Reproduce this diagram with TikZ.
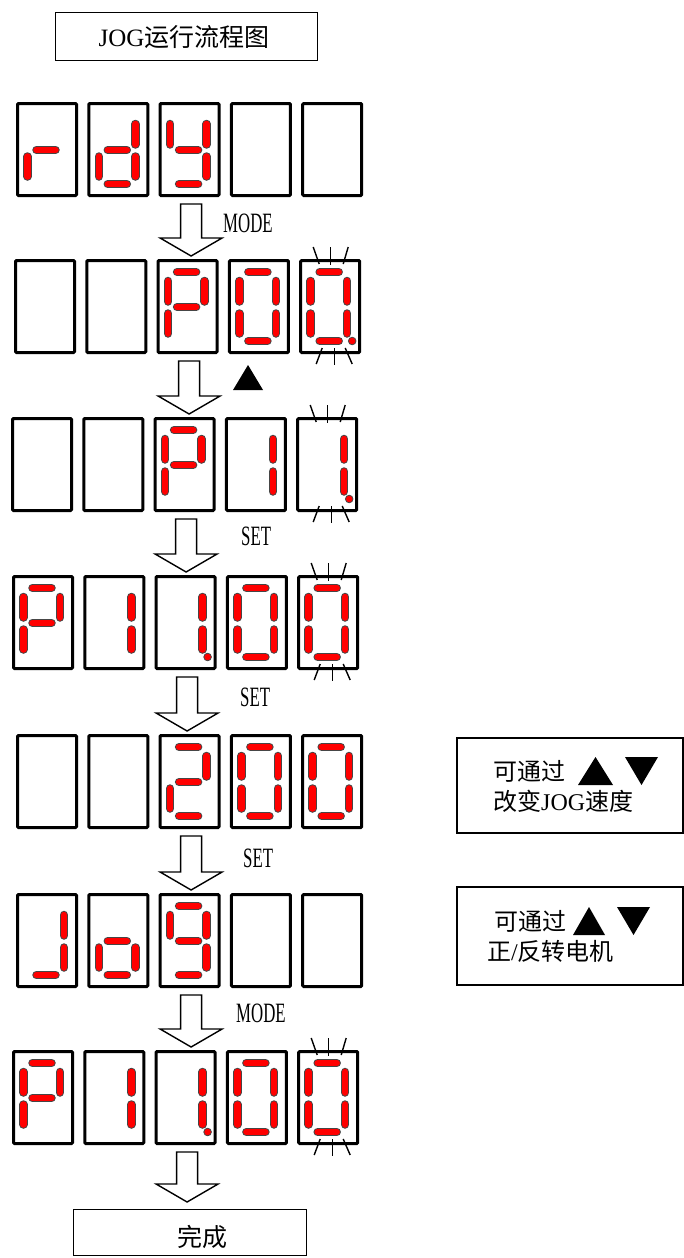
\documentclass[tikz,border=0pt]{standalone}
\usepackage{fontspec}
\setmainfont{Liberation Serif}
\newfontfamily\cjk{Noto Sans CJK SC}
\usepackage{graphicx}
\usetikzlibrary{calc}
\definecolor{segred}{RGB}{255,0,0}
\definecolor{segedge}{RGB}{70,70,70}
\tikzset{
  dbox/.style={draw, line width=3pt, rounded corners=1pt, minimum width=59pt, minimum height=92pt, inner sep=0pt, outer sep=0pt, anchor=north west},
  segout/.style={line width=8.5pt, line cap=round, draw=segedge},
  segin/.style={line width=6.5pt, line cap=round, draw=segred},
  blink/.style={line width=1.4pt, draw=black},
  barrow/.style={draw=black, fill=white, line width=1.4pt, line join=miter},
  tbox/.style={draw=black, line width=1.3pt, inner sep=0pt, outer sep=0pt, anchor=north west},
  keylbl/.style={inner sep=0pt, anchor=west, font=\fontsize{28pt}{28pt}\selectfont},
  cjktxt/.style={inner sep=0pt, anchor=west, font=\fontsize{24pt}{26pt}\selectfont},
}
% segment helpers (coordinates relative to the outer top-left of a display box)
\newcommand\hseg[1]{\draw[segout] (20.5,#1) -- (39.5,#1); \draw[segin] (20.5,#1) -- (39.5,#1);}
\newcommand\vseg[3]{\draw[segout] (#1,#2) -- (#1,#3); \draw[segin] (#1,#2) -- (#1,#3);}
\newcommand\sgA{\hseg{13}}
\newcommand\sgG{\hseg{48}}
\newcommand\sgD{\hseg{82}}
\newcommand\sgF{\vseg{11.5}{22}{42.5}}
\newcommand\sgB{\vseg{48}{22}{42.5}}
\newcommand\sgE{\vseg{11.5}{54.5}{74.5}}
\newcommand\sgC{\vseg{48}{54.5}{74.5}}
\newcommand\sgP{\filldraw[fill=segred, draw=segedge, line width=0.8pt] (53,82) circle (3.8pt);}
\newcommand\sgT{\draw[blink] (14,-12) -- (20,5); \draw[blink] (31,-12) -- (31,6); \draw[blink] (49,-12) -- (44,5);}
\newcommand\sgU{\draw[blink] (23,89) -- (17,105); \draw[blink] (35,89) -- (35,106); \draw[blink] (46,89) -- (53,105);}
% one display box: name, x, y, segment list
\newcommand\dg[4]{%
  \node[dbox] (#1) at (#2+1.5,#3+1.5) {};
  \begin{scope}[shift={(#2,#3)}]
    \foreach \s in {#4} {\csname sg\s\endcsname}
  \end{scope}}
% one row of five boxes
\newcommand\drow[8]{%
  \dg{#1c1}{#2}{#3}{#4}
  \dg{#1c2}{#2+71.3}{#3}{#5}
  \dg{#1c3}{#2+142.6}{#3}{#6}
  \dg{#1c4}{#2+213.9}{#3}{#7}
  \dg{#1c5}{#2+285.2}{#3}{#8}}
% block arrow from one node to the next
\newcommand\flow[3]{%
  \draw[barrow] let \p1=(#1.south), \p2=(#2.north) in
    (\x1-9pt,\y1-8.5pt) -- (\x1+12pt,\y1-8.5pt) -- (\x1+12pt,\y2+#3+18pt)
    -- (\x1+32.5pt,\y2+#3+18pt) -- (\x1+1.5pt,\y2+#3) -- (\x1-29.5pt,\y2+#3+18pt)
    -- (\x1-9pt,\y2+#3+18pt) -- cycle;}
\begin{document}
\begin{tikzpicture}[x=1pt,y=-1pt]
\path[use as bounding box, fill=white] (0,0) rectangle (684,1258);

% title
\node[tbox, minimum width=262pt, minimum height=48pt] (title) at (55.5,12.5) {};
\node[inner sep=0pt, font=\fontsize{25pt}{26pt}\selectfont] (titletxt) at (184,37) {JOG{\cjk 运行流程图}};

% display rows
\drow{r1}{16}{102}{E,G}{B,C,D,E,G}{B,C,D,F,G}{none}{none}
\drow{r2}{14}{259}{none}{none}{A,B,E,F,G}{A,B,C,D,E,F}{A,B,C,D,E,F,P,T,U}
\drow{r3}{11}{417}{none}{none}{A,B,E,F,G}{B,C}{B,C,P,T,U}
\drow{r4}{12}{575}{A,B,E,F,G}{B,C}{B,C,P}{A,B,C,D,E,F}{A,B,C,D,E,F,T,U}
\drow{r5}{16}{734}{none}{none}{A,B,G,E,D}{A,B,C,D,E,F}{A,B,C,D,E,F}
\drow{r6}{16}{893}{B,C,D}{C,D,E,G}{A,B,C,D,F,G}{none}{none}
\drow{r7}{12}{1050}{A,B,E,F,G}{B,C}{B,C,P}{A,B,C,D,E,F}{A,B,C,D,E,F,T,U}

% finish box
\node[tbox, minimum width=233pt, minimum height=46pt] (done) at (73.5,1209.5) {};
\node[inner sep=0pt, font=\fontsize{25pt}{26pt}\selectfont\cjk] (donetxt) at (202,1237) {完成};

% arrows
\flow{r1c3}{r2c3}{4.5pt}
\flow{r2c3}{r3c3}{4.5pt}
\flow{r3c3}{r4c3}{4.5pt}
\flow{r4c3}{r5c3}{4.5pt}
\flow{r5c3}{r6c3}{4.5pt}
\flow{r6c3}{r7c3}{4.5pt}
\flow{r7c3}{done}{7.5pt}

% key labels
\node[keylbl] (k1) at (223,223) {\scalebox{0.6}[1]{MODE}};
\fill (233,390) -- (263,390) -- (248,365) -- cycle;
\node[keylbl] (k3) at (241,536) {\scalebox{0.6}[1]{SET}};
\node[keylbl] (k4) at (240,697) {\scalebox{0.6}[1]{SET}};
\node[keylbl] (k5) at (243,858) {\scalebox{0.6}[1]{SET}};
\node[keylbl] (k6) at (236,1013) {\scalebox{0.6}[1]{MODE}};

% hint boxes
\node[tbox, minimum width=226pt, minimum height=95pt] (hint1) at (457,738) {};
\node[cjktxt] (h1a) at (493,771) {\cjk 可通过};
\node[cjktxt] (h1b) at (493,801) {{\cjk 改变}JOG{\cjk 速度}};
\fill (578,785) -- (613,785) -- (595.5,757) -- cycle;
\fill (625,757) -- (658,757) -- (641.5,785) -- cycle;

\node[tbox, minimum width=226pt, minimum height=98pt] (hint2) at (457,887) {};
\node[cjktxt] (h2a) at (494,921) {\cjk 可通过};
\node[cjktxt] (h2b) at (487,951) {{\cjk 正}/{\cjk 反转电机}};
\fill (573,935) -- (605,935) -- (589,907) -- cycle;
\fill (617,907) -- (650,907) -- (633.5,935) -- cycle;
\end{tikzpicture}
\end{document}
